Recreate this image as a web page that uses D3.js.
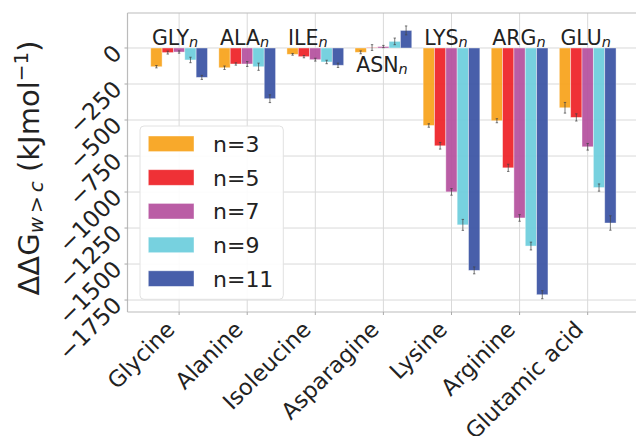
<!DOCTYPE html>
<html>
<head>
<meta charset="utf-8">
<script src="https://cdn.jsdelivr.net/npm/d3@7"></script>
<style>
  html, body { margin: 0; padding: 0; background: #fff; }
  svg { display: block; font-family: "DejaVu Sans", sans-serif; }
</style>
</head>
<body>
<svg id="chart" width="636" height="436"></svg>
<script>
// ---------------- data ----------------
const categories = ["Glycine", "Alanine", "Isoleucine", "Asparagine", "Lysine", "Arginine", "Glutamic acid"];
const groupLabels = ["GLY", "ALA", "ILE", "ASN", "LYS", "ARG", "GLU"];
const groupLabelY = [20, 20, 20, -170, 20, 20, 20];
const seriesNames = ["n=3", "n=5", "n=7", "n=9", "n=11"];
const seriesColors = ["#f7a21b", "#ee2127", "#b5519e", "#6dcddd", "#3a53a4"];
const n3  = [-130, -137, -44, -30, -538, -505, -415];
const n5  = [-32, -111, -60, 3, -679, -832, -482];
const n7  = [-28, -111, -81, 10, -999, -1180, -686];
const n9  = [-83, -130, -97, 46, -1228, -1375, -969];
const n11 = [-204, -352, -120, 122, -1544, -1713, -1215];
const err3  = [8, 12, 6, 10, 12, 14, 37];
const err5  = [10, 8, 8, 20, 23, 25, 25];
const err7  = [8, 17, 10, 8, 23, 23, 23];
const err9  = [19, 25, 12, 23, 38, 27, 25];
const err11 = [14, 27, 15, 31, 24, 28, 50];
const yTicks = [0, -250, -500, -750, -1000, -1250, -1500, -1750];

const seriesValues = [n3, n5, n7, n9, n11];
const seriesErrors = [err3, err5, err7, err9, err11];

// ---------------- layout ----------------
const svg = d3.select("#chart");
const pL = 127.5, pR = 639.3, pT = 13, pB = 312;
const barW = 1 / 6;

const x = d3.scaleLinear().domain([-0.758, categories.length - 1 + 0.758]).range([pL, pR]);
const y = d3.scaleLinear().domain([-1833, 243]).range([pB, pT]);

svg.append("rect").attr("width", 636).attr("height", 436).attr("fill", "#fff");

// grid
const grid = svg.append("g");
grid.selectAll("line.h").data(yTicks).join("line").attr("class", "h")
  .attr("x1", pL).attr("x2", pR)
  .attr("y1", d => y(d)).attr("y2", d => y(d))
  .attr("stroke", "#d9d9d9").attr("stroke-width", 1);
grid.selectAll("line.v").data(categories).join("line").attr("class", "v")
  .attr("x1", (d, i) => x(i)).attr("x2", (d, i) => x(i))
  .attr("y1", pT).attr("y2", pB)
  .attr("stroke", "#d9d9d9").attr("stroke-width", 1);

// bars
const flat = [];
seriesValues.forEach((vals, j) => vals.forEach((v, i) => flat.push({ i, j, v, e: seriesErrors[j][i] })));

svg.append("g").selectAll("rect").data(flat).join("rect")
  .attr("x", d => x(d.i + (d.j - 2.5) * barW))
  .attr("width", x(barW) - x(0))
  .attr("y", d => y(Math.max(0, d.v)))
  .attr("height", d => Math.abs(y(d.v) - y(0)))
  .attr("fill", d => seriesColors[d.j])
  .attr("fill-opacity", 0.93)
  .attr("stroke", "#fff").attr("stroke-opacity", 0.5).attr("stroke-width", 0.8);

// error bars
const eb = svg.append("g").attr("stroke", "#444").attr("stroke-opacity", 0.8).attr("stroke-width", 0.9);
flat.forEach(d => {
  const cx = x(d.i + (d.j - 2) * barW);
  eb.append("line").attr("x1", cx).attr("x2", cx).attr("y1", y(d.v - d.e)).attr("y2", y(d.v + d.e));
  eb.append("line").attr("x1", cx - 1.2).attr("x2", cx + 1.2).attr("y1", y(d.v - d.e)).attr("y2", y(d.v - d.e));
  eb.append("line").attr("x1", cx - 1.2).attr("x2", cx + 1.2).attr("y1", y(d.v + d.e)).attr("y2", y(d.v + d.e));
});

// group labels
const gl = svg.append("g").attr("fill", "#222");
groupLabels.forEach((t, i) => {
  const txt = gl.append("text")
    .attr("x", x(i - 0.4)).attr("y", y(groupLabelY[i]))
    .attr("font-size", 20.5);
  txt.append("tspan").text(t);
  txt.append("tspan").attr("font-size", 14.5).attr("font-style", "italic").attr("dy", 2).text("n");
});

// spines
const sp = svg.append("g").attr("stroke", "#bbbbbb").attr("stroke-width", 1.2).attr("fill", "none");
sp.append("line").attr("x1", pL).attr("x2", pL).attr("y1", pT).attr("y2", pB);
sp.append("line").attr("x1", pL).attr("x2", pR).attr("y1", pT).attr("y2", pT);
sp.append("line").attr("x1", pL).attr("x2", pR).attr("y1", pB).attr("y2", pB);

// ticks
const tk = svg.append("g").attr("stroke", "#aaaaaa").attr("stroke-width", 1);
categories.forEach((c, i) => tk.append("line").attr("x1", x(i)).attr("x2", x(i)).attr("y1", pB).attr("y2", pB + 3));
yTicks.forEach(t => tk.append("line").attr("x1", pL - 3).attr("x2", pL).attr("y1", y(t)).attr("y2", y(t)));

// x tick labels
svg.append("g").selectAll("text").data(categories).join("text")
  .attr("transform", (d, i) => `translate(${x(i) - 3},${pB + 19}) rotate(-45)`)
  .attr("text-anchor", "end")
  .attr("font-size", 22.5)
  .attr("fill", "#222")
  .text(d => d);

// y tick labels
const fmt = v => (v < 0 ? "\u2212" + Math.abs(v) : String(v));
svg.append("g").selectAll("text").data(yTicks).join("text")
  .attr("transform", d => `translate(${pL - 10},${y(d) + 1}) rotate(-45)`)
  .attr("text-anchor", "end")
  .attr("dominant-baseline", "central")
  .attr("font-size", 23)
  .attr("fill", "#222")
  .text(fmt);

// y axis title
const title = svg.append("text")
  .attr("transform", `translate(39,168) rotate(-90)`)
  .attr("text-anchor", "middle")
  .attr("font-size", 29)
  .attr("fill", "#222");
title.append("tspan").text("\u0394\u0394G");
title.append("tspan").attr("font-size", 20).attr("font-style", "italic").attr("dy", 4).text("w\u2009>\u2009c");
title.append("tspan").attr("dy", -4).text(" (kJmol");
title.append("tspan").attr("font-size", 20).attr("dy", -11).text("\u22121");
title.append("tspan").attr("dy", 11).text(")");

// legend
const lg = svg.append("g");
lg.append("rect").attr("x", 140).attr("y", 126).attr("width", 143.3).attr("height", 173.3)
  .attr("rx", 4).attr("fill", "#fff").attr("fill-opacity", 0.9)
  .attr("stroke", "#e2e2e2").attr("stroke-width", 1);
seriesNames.forEach((s, j) => {
  const cy = 143.8 + j * 33.7;
  lg.append("rect").attr("x", 148.3).attr("y", cy - 7.8).attr("width", 45.7).attr("height", 15.6)
    .attr("fill", seriesColors[j]).attr("fill-opacity", 0.93)
    .attr("stroke", "#fff").attr("stroke-opacity", 0.5).attr("stroke-width", 0.8);
  lg.append("text").attr("x", 213).attr("y", cy + 8).attr("font-size", 22).attr("fill", "#222").text(s);
});
</script>
</body>
</html>
